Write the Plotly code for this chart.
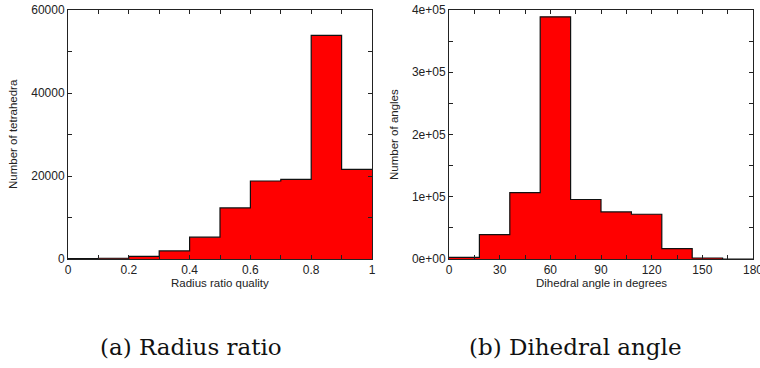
import plotly.graph_objects as go

# Data
rr_bin_left = [0.0, 0.1, 0.2, 0.3, 0.4, 0.5, 0.6, 0.7, 0.8, 0.9]
rr_counts = [100, 180, 650, 1950, 5250, 12300, 18800, 19200, 53900, 21600]
rr_width = 0.1

da_bin_left = [0, 18, 36, 54, 72, 90, 108, 126, 144, 162]
da_counts = [2700, 39200, 106500, 389000, 95600, 75700, 71900, 16600, 1600, 0]
da_width = 18

rr_xtick_vals = [0, 0.1, 0.2, 0.3, 0.4, 0.5, 0.6, 0.7, 0.8, 0.9, 1.0]
rr_xtick_text = ["0", "", "0.2", "", "0.4", "", "0.6", "", "0.8", "", "1"]
rr_ytick_vals = [0, 10000, 20000, 30000, 40000, 50000, 60000]
rr_ytick_text = ["0", "", "20000", "", "40000", "", "60000"]

da_xtick_vals = [0, 15, 30, 45, 60, 75, 90, 105, 120, 135, 150, 165, 180]
da_xtick_text = ["0", "", "30", "", "60", "", "90", "", "120", "", "150", "", "180"]
da_ytick_vals = [0, 50000, 100000, 150000, 200000, 250000, 300000, 350000, 400000]
da_ytick_text = ["0e+00", "", "1e+05", "", "2e+05", "", "3e+05", "", "4e+05"]

W, H = 760, 368
tick_font = dict(family="Liberation Sans, Arial, sans-serif", size=12, color="#222")


def step_xy(lefts, counts, width):
    xs = list(lefts) + [lefts[-1] + width]
    ys = list(counts) + [counts[-1]]
    return xs, ys


fig = go.Figure()
x1, y1 = step_xy(rr_bin_left, rr_counts, rr_width)
fig.add_trace(go.Scatter(
    x=x1, y=y1, mode="lines", line=dict(shape="hv", color="#111", width=1.2),
    fill="tozeroy", fillcolor="#ff0000", hoverinfo="skip",
    xaxis="x", yaxis="y", showlegend=False))
x2, y2 = step_xy(da_bin_left, da_counts, da_width)
fig.add_trace(go.Scatter(
    x=x2, y=y2, mode="lines", line=dict(shape="hv", color="#111", width=1.2),
    fill="tozeroy", fillcolor="#ff0000", hoverinfo="skip",
    xaxis="x2", yaxis="y2", showlegend=False))


def px_x(p):
    return p / W


def px_y(p):
    return 1 - p / H


common = dict(showgrid=False, zeroline=False, showline=True, linecolor="#222",
              linewidth=1, mirror="ticks", ticks="inside", ticklen=4,
              tickcolor="#222", tickfont=tick_font, layer="above traces",
              ticklabeloverflow="allow")

fig.update_layout(
    width=W, height=H, margin=dict(l=0, r=0, t=0, b=0, autoexpand=False),
    plot_bgcolor="white", paper_bgcolor="white", hovermode=False,
    xaxis=dict(domain=[px_x(68), px_x(372)], range=[0, 1], anchor="y",
               tickmode="array", tickvals=rr_xtick_vals, ticktext=rr_xtick_text, **common),
    yaxis=dict(domain=[px_y(259), px_y(10)], range=[0, 60000], anchor="x",
               tickmode="array", tickvals=rr_ytick_vals, ticktext=rr_ytick_text, **common),
    xaxis2=dict(domain=[px_x(449), px_x(753)], range=[0, 180], anchor="y2",
                tickmode="array", tickvals=da_xtick_vals, ticktext=da_xtick_text, **common),
    yaxis2=dict(domain=[px_y(259), px_y(10)], range=[0, 400000], anchor="x2",
                tickmode="array", tickvals=da_ytick_vals, ticktext=da_ytick_text, **common),
)

lab_font = dict(family="Liberation Sans, Arial, sans-serif", size=11.5, color="#222")
cap_font = dict(family="DejaVu Serif, Liberation Serif, serif", size=23, color="#111")

annos = [
    dict(text="Radius ratio quality", x=px_x(220), y=px_y(283), font=lab_font),
    dict(text="Number of tetrahedra", x=px_x(13), y=px_y(134), font=lab_font, textangle=-90),
    dict(text="Dihedral angle in degrees", x=px_x(601), y=px_y(283), font=lab_font),
    dict(text="Number of angles", x=px_x(394), y=px_y(134), font=lab_font, textangle=-90),
    dict(text="(a) Radius ratio", x=px_x(191), y=px_y(347), font=cap_font),
    dict(text="(b) Dihedral angle", x=px_x(575), y=px_y(347), font=cap_font),
]
for a in annos:
    fig.add_annotation(xref="paper", yref="paper", showarrow=False,
                       xanchor="center", yanchor="middle", **a)

fig.write_html("out.html", config={"displayModeBar": False, "staticPlot": True},
               post_script="document.body.style.margin='0';document.body.style.overflow='hidden';")
